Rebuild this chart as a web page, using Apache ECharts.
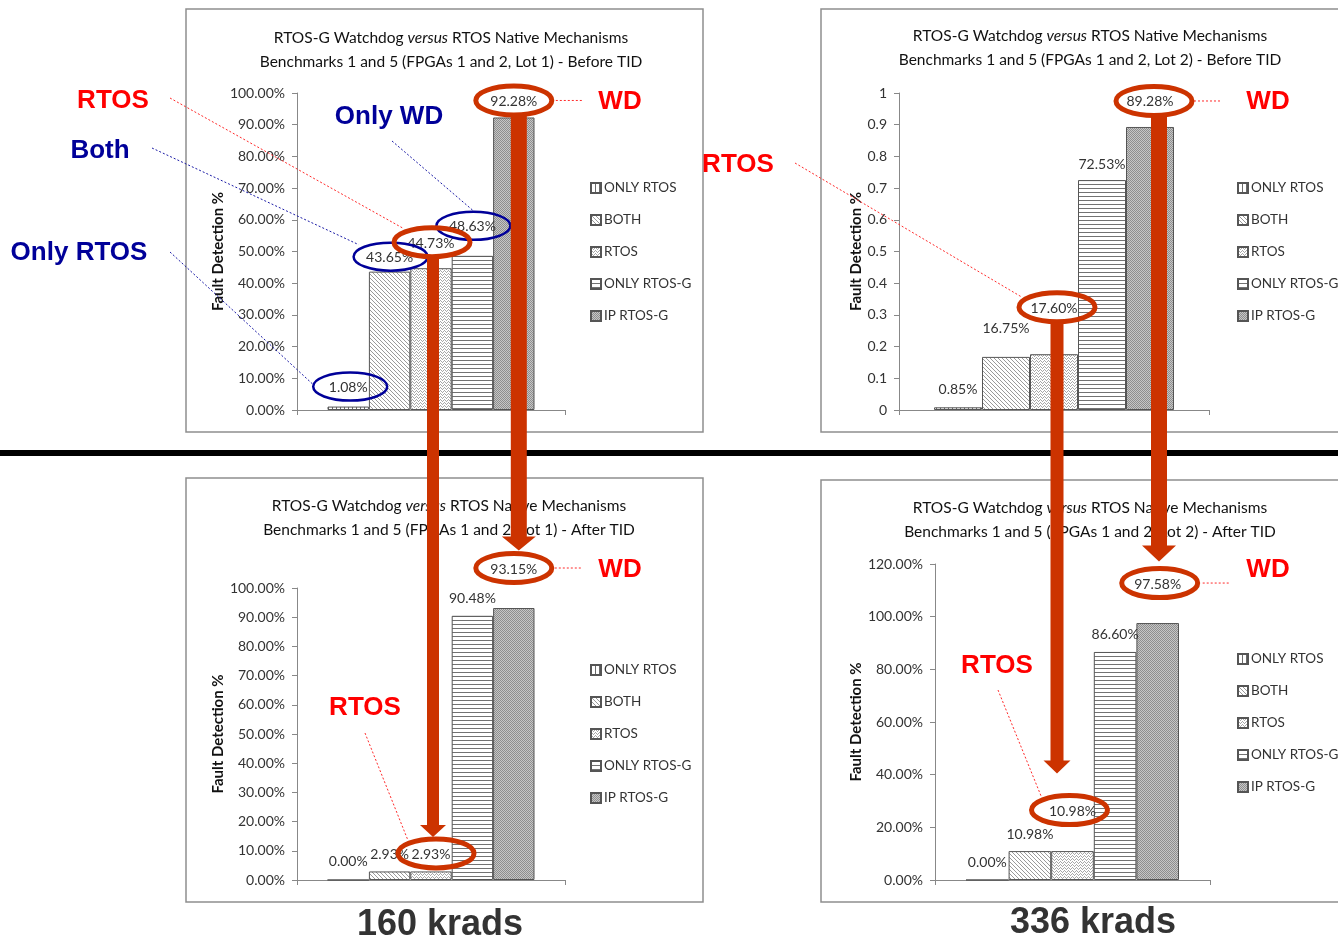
<!DOCTYPE html>
<html>
<head>
<meta charset="utf-8">
<title>RTOS-G Watchdog versus RTOS Native Mechanisms</title>
<script src="https://cdn.jsdelivr.net/npm/echarts@6/dist/echarts.min.js"></script>
<style>
  html, body { margin: 0; padding: 0; background: #ffffff; }
  #chart { width: 1338px; height: 937px; }
</style>
</head>
<body>
<div id="chart"></div>
<script>
// ---- data ---------------------------------------------------------------
const seriesNames = ['ONLY RTOS', 'BOTH', 'RTOS', 'ONLY RTOS-G', 'IP RTOS-G'];
const category = ['Benchmarks 1 and 5'];

// fault detection, before / after total ionizing dose
const lot1Before = [1.08, 43.65, 44.73, 48.63, 92.28];          // percent
const lot2Before = [0.0085, 0.1675, 0.1760, 0.7253, 0.8928];    // fraction
const lot1After  = [0.00, 2.93, 2.93, 90.48, 93.15];            // percent
const lot2After  = [0.00, 10.98, 10.98, 86.60, 97.58];          // percent

// axis tick labels
const ticksPct10 = ['0.00%', '10.00%', '20.00%', '30.00%', '40.00%', '50.00%',
                    '60.00%', '70.00%', '80.00%', '90.00%', '100.00%'];
const ticksFrac  = ['0', '0.1', '0.2', '0.3', '0.4', '0.5', '0.6', '0.7', '0.8', '0.9', '1'];
const ticksPct20 = ['0.00%', '20.00%', '40.00%', '60.00%', '80.00%', '100.00%', '120.00%'];

const doseLabels = ['160 krads', '336 krads'];

// ---- fill patterns for the five bar types --------------------------------
function pixelPattern(w, h, bg, fg, pixels) {
  const c = document.createElement('canvas');
  c.width = w; c.height = h;
  const ctx = c.getContext('2d');
  ctx.fillStyle = bg; ctx.fillRect(0, 0, w, h);
  ctx.fillStyle = fg;
  pixels.forEach(p => ctx.fillRect(p[0], p[1], 1, 1));
  return { image: c, repeat: 'repeat' };
}
const patterns = [
  // vertical lines
  pixelPattern(4, 4, '#ffffff', '#6a6a6a', [[0,0],[0,1],[0,2],[0,3]]),
  // diagonal "\" lines
  pixelPattern(4, 4, '#ffffff', '#9a9a9a', [[0,0],[1,1],[2,2],[3,3]]),
  // small zigzag
  pixelPattern(4, 3, '#ffffff', '#a8a8a8', [[0,0],[1,1],[3,1],[2,2]]),
  // horizontal lines
  pixelPattern(4, 4, '#ffffff', '#727272', [[0,0],[1,0],[2,0],[3,0]]),
  // dense dark dots
  pixelPattern(2, 2, '#c6c6c6', '#8e8e8e', [[0,0],[1,1]])
];

// ---- panel layout -------------------------------------------------------
const FONT = 'Lato, "Open Sans", sans-serif';
const pctFmt = v => v.toFixed(2) + '%';
const fracFmt = v => (v * 100).toFixed(2) + '%';

const panels = [
  { lot: 1, phase: 'Before TID', values: lot1Before, ticks: ticksPct10, max: 100, interval: 10,
    fmt: pctFmt, grid: { left: 297, top: 93, width: 268, height: 317 }, barWidth: 41.4,
    nameGap: 70, titleX: 446, titleY: 21, legend: { left: 590, top: 180 },
    lift: [20, 15, 26, 30, 17] },
  { lot: 2, phase: 'Before TID', values: lot2Before, ticks: ticksFrac, max: 1, interval: 0.1,
    fmt: fracFmt, grid: { left: 899, top: 93, width: 310, height: 317 }, barWidth: 48,
    nameGap: 35, titleX: 1085, titleY: 19, legend: { left: 1237, top: 180 },
    lift: [19, 29, 47, 17, 26] },
  { lot: 1, phase: 'After TID', values: lot1After, ticks: ticksPct10, max: 100, interval: 10,
    fmt: pctFmt, grid: { left: 297, top: 588, width: 268, height: 292 }, barWidth: 41.4,
    nameGap: 70, titleX: 444, titleY: 489, legend: { left: 590, top: 662 },
    lift: [19, 18, 18, 18, 40] },
  { lot: 2, phase: 'After TID', values: lot2After, ticks: ticksPct20, max: 120, interval: 20,
    fmt: pctFmt, grid: { left: 935, top: 564, width: 275, height: 316 }, barWidth: 42.6,
    nameGap: 71, titleX: 1085, titleY: 491, legend: { left: 1237, top: 651 },
    lift: [18, 18, 41, 18, 40] }
];

const option = {
  animation: false,
  backgroundColor: '#ffffff',
  textStyle: { fontFamily: FONT },
  title: panels.map(p => ({
    text: 'RTOS-G Watchdog {i|versus} RTOS Native Mechanisms\n' +
          'Benchmarks 1 and 5 (FPGAs 1 and 2, Lot ' + p.lot + ') - ' + p.phase,
    left: p.titleX, top: p.titleY, textAlign: 'center',
    textStyle: {
      fontFamily: FONT, fontSize: 15.5, fontWeight: 'normal', color: '#111111', lineHeight: 24,
      rich: { i: { fontFamily: FONT, fontSize: 15.5, fontStyle: 'italic', color: '#111111', lineHeight: 24 } }
    }
  })),
  legend: panels.map(p => ({
    data: seriesNames, orient: 'vertical', left: p.legend.left, top: p.legend.top, padding: 0,
    icon: 'rect', itemWidth: 10, itemHeight: 10, itemGap: 16, selectedMode: false,
    textStyle: { fontFamily: FONT, fontSize: 13.5, color: '#333333', lineHeight: 16, padding: [0, 0, 0, -2] }
  })),
  grid: panels.map(p => Object.assign({ containLabel: false }, p.grid)),
  xAxis: panels.map((p, k) => ({
    type: 'category', gridIndex: k, data: category,
    axisLine: { show: true, lineStyle: { color: '#888888', width: 1 } },
    axisTick: { show: true, length: 5, lineStyle: { color: '#888888' } },
    axisLabel: { show: false }, splitLine: { show: false }
  })),
  yAxis: panels.map((p, k) => ({
    type: 'value', gridIndex: k, min: 0, max: p.max, interval: p.interval,
    axisLine: { show: true, lineStyle: { color: '#888888', width: 1 } },
    axisTick: { show: true, length: 5, lineStyle: { color: '#888888' } },
    splitLine: { show: false },
    axisLabel: {
      fontFamily: FONT, fontSize: 14, color: '#333333', margin: 12,
      formatter: v => p.ticks[Math.round(v / p.interval)]
    },
    name: 'Fault Detection %', nameLocation: 'middle', nameRotate: 90, nameGap: p.nameGap,
    nameTextStyle: { fontFamily: FONT, fontSize: 15, fontWeight: 'bold', color: '#111111' }
  })),
  series: []
};

panels.forEach((p, k) => {
  seriesNames.forEach((name, i) => {
    option.series.push({
      type: 'bar', name: name, xAxisIndex: k, yAxisIndex: k,
      barWidth: p.barWidth, barGap: '0%',
      itemStyle: { color: patterns[i], borderColor: '#555555', borderWidth: 1 },
      label: {
        show: true, position: 'top', distance: p.lift[i] - 8,
        fontFamily: FONT, fontSize: 14, color: '#333333',
        formatter: params => p.fmt(params.value)
      },
      data: [p.values[i]]
    });
  });
});

const chart = echarts.init(document.getElementById('chart'), null, { renderer: 'canvas' });
chart.setOption(option);

// ---- annotation overlay ------------------------------------------------
const RED = '#cc3300', NAVY = '#000099', BRIGHT = '#ff0000';

function labelCenter(k, i) {
  const p = panels[k];
  const cx = chart.convertToPixel({ xAxisIndex: k }, category[0]);
  const top = chart.convertToPixel({ yAxisIndex: k }, p.values[i]);
  return [cx + (i - 2) * p.barWidth, top - p.lift[i]];
}

// rings drawn around value labels: [panel, bar, colour, dx]
const rings = [
  [0, 0, 'blue', 2], [0, 1, 'blue', 1], [0, 2, 'red', 1], [0, 3, 'blue', 1], [0, 4, 'red', 0],
  [1, 2, 'red', 3], [1, 4, 'red', 4],
  [2, 2, 'red', 5], [2, 4, 'red', 0],
  [3, 2, 'red', -3], [3, 4, 'red', 2]
];
const ringAt = {};
const graphics = [];

// panel frames
[[186, 9, 517, 423], [821, 9, 530, 423], [186, 478, 517, 424], [821, 480, 530, 422]].forEach(r => {
  graphics.push({ type: 'rect', z: -1, silent: true,
    shape: { x: r[0], y: r[1], width: r[2], height: r[3] },
    style: { fill: 'none', stroke: '#8e8e8e', lineWidth: 1.5 } });
});

// divider between the two dose levels
graphics.push({ type: 'rect', z: 40, silent: true,
  shape: { x: 0, y: 450, width: 1338, height: 6 }, style: { fill: '#000000' } });

rings.forEach(([k, i, kind, dx]) => {
  const c = labelCenter(k, i);
  const cx = c[0] + dx, cy = c[1];
  const red = kind === 'red';
  const rx = red ? 38 : 37, ry = red ? 14.5 : 14;
  ringAt[k + '_' + i] = { cx, cy, rx, ry };
  graphics.push({ type: 'ellipse', z: red ? 60 : 55, silent: true,
    shape: { cx, cy, rx, ry },
    style: { fill: 'none', stroke: red ? RED : NAVY, lineWidth: red ? 5 : 2.5 } });
});

// thick arrows linking the before/after values: [fromRing, toRing, dx, tipGap, shaft, head, headH]
const arrows = [
  ['0_2', '2_2', 1, 0, 12, 26, 12],
  ['0_4', '2_4', 5, 1, 16, 34, 14],
  ['1_2', '3_2', 0, 20, 13, 27, 13],
  ['1_4', '3_4', 5, 5, 16, 34, 16]
];
arrows.forEach(([a, b, dx, gap, sw, hw, hh]) => {
  const r0 = ringAt[a], r1 = ringAt[b];
  const x = r0.cx + dx;
  const y0 = r0.cy + r0.ry + 1;
  const tip = r1.cy - r1.ry - 2 - gap;
  const hy = tip - hh;
  graphics.push({ type: 'polygon', z: 70, silent: true,
    shape: { points: [[x - sw / 2, y0], [x + sw / 2, y0], [x + sw / 2, hy], [x + hw / 2, hy],
                      [x, tip], [x - hw / 2, hy], [x - sw / 2, hy]] },
    style: { fill: RED } });
});

// callout words with dotted leaders: [text, colour, x, y, leaderStart, ring, leaderEndOffset]
const callouts = [
  ['RTOS', BRIGHT, 113, 101, [170, 98], '0_2', [-29, -14]],
  ['Both', NAVY, 100, 151, [152, 148], '0_1', [-32, -12]],
  ['Only RTOS', NAVY, 79, 253, [170, 252], '0_0', [-37, -2]],
  ['Only WD', NAVY, 389, 117, [392, 141], '0_3', [0, -15]],
  ['WD', BRIGHT, 620, 102, null, '0_4', [42, 68]],
  ['RTOS', BRIGHT, 738, 165, [795, 163], '1_2', [-35, -10]],
  ['WD', BRIGHT, 1268, 102, null, '1_4', [40, 68]],
  ['RTOS', BRIGHT, 365, 708, [365, 733], '2_2', [-28, -13]],
  ['WD', BRIGHT, 620, 570, null, '2_4', [41, 68]],
  ['RTOS', BRIGHT, 997, 666, [998, 690], '3_2', [-28, -13]],
  ['WD', BRIGHT, 1268, 570, null, '3_4', [43, 69]]
];
callouts.forEach(([txt, col, x, y, start, ring, off]) => {
  const r = ringAt[ring];
  graphics.push({ type: 'text', z: 65, silent: true, x, y,
    style: { text: txt, fill: col, font: 'bold 26px "Liberation Sans", Arial, sans-serif',
             align: 'center', verticalAlign: 'middle' } });
  const lineCol = col === NAVY ? '#1a1aa6' : '#ff2a2a';
  let shape;
  if (start) {
    shape = { x1: start[0], y1: start[1], x2: r.cx + off[0], y2: r.cy + off[1] };
  } else {
    shape = { x1: r.cx + off[0], y1: r.cy, x2: r.cx + off[1], y2: r.cy };
  }
  graphics.push({ type: 'line', z: 50, silent: true, shape,
    style: { stroke: lineCol, lineWidth: 1, lineDash: [2, 2] } });
});

// dose level captions
[[440, 925], [1093, 923]].forEach((pos, j) => {
  graphics.push({ type: 'text', z: 65, silent: true, x: pos[0], y: pos[1],
    style: { text: doseLabels[j], fill: '#333333', font: 'bold 36px "Liberation Sans", Arial, sans-serif',
             align: 'center', verticalAlign: 'middle' } });
});

chart.setOption({ graphic: { elements: graphics } });
</script>
</body>
</html>
